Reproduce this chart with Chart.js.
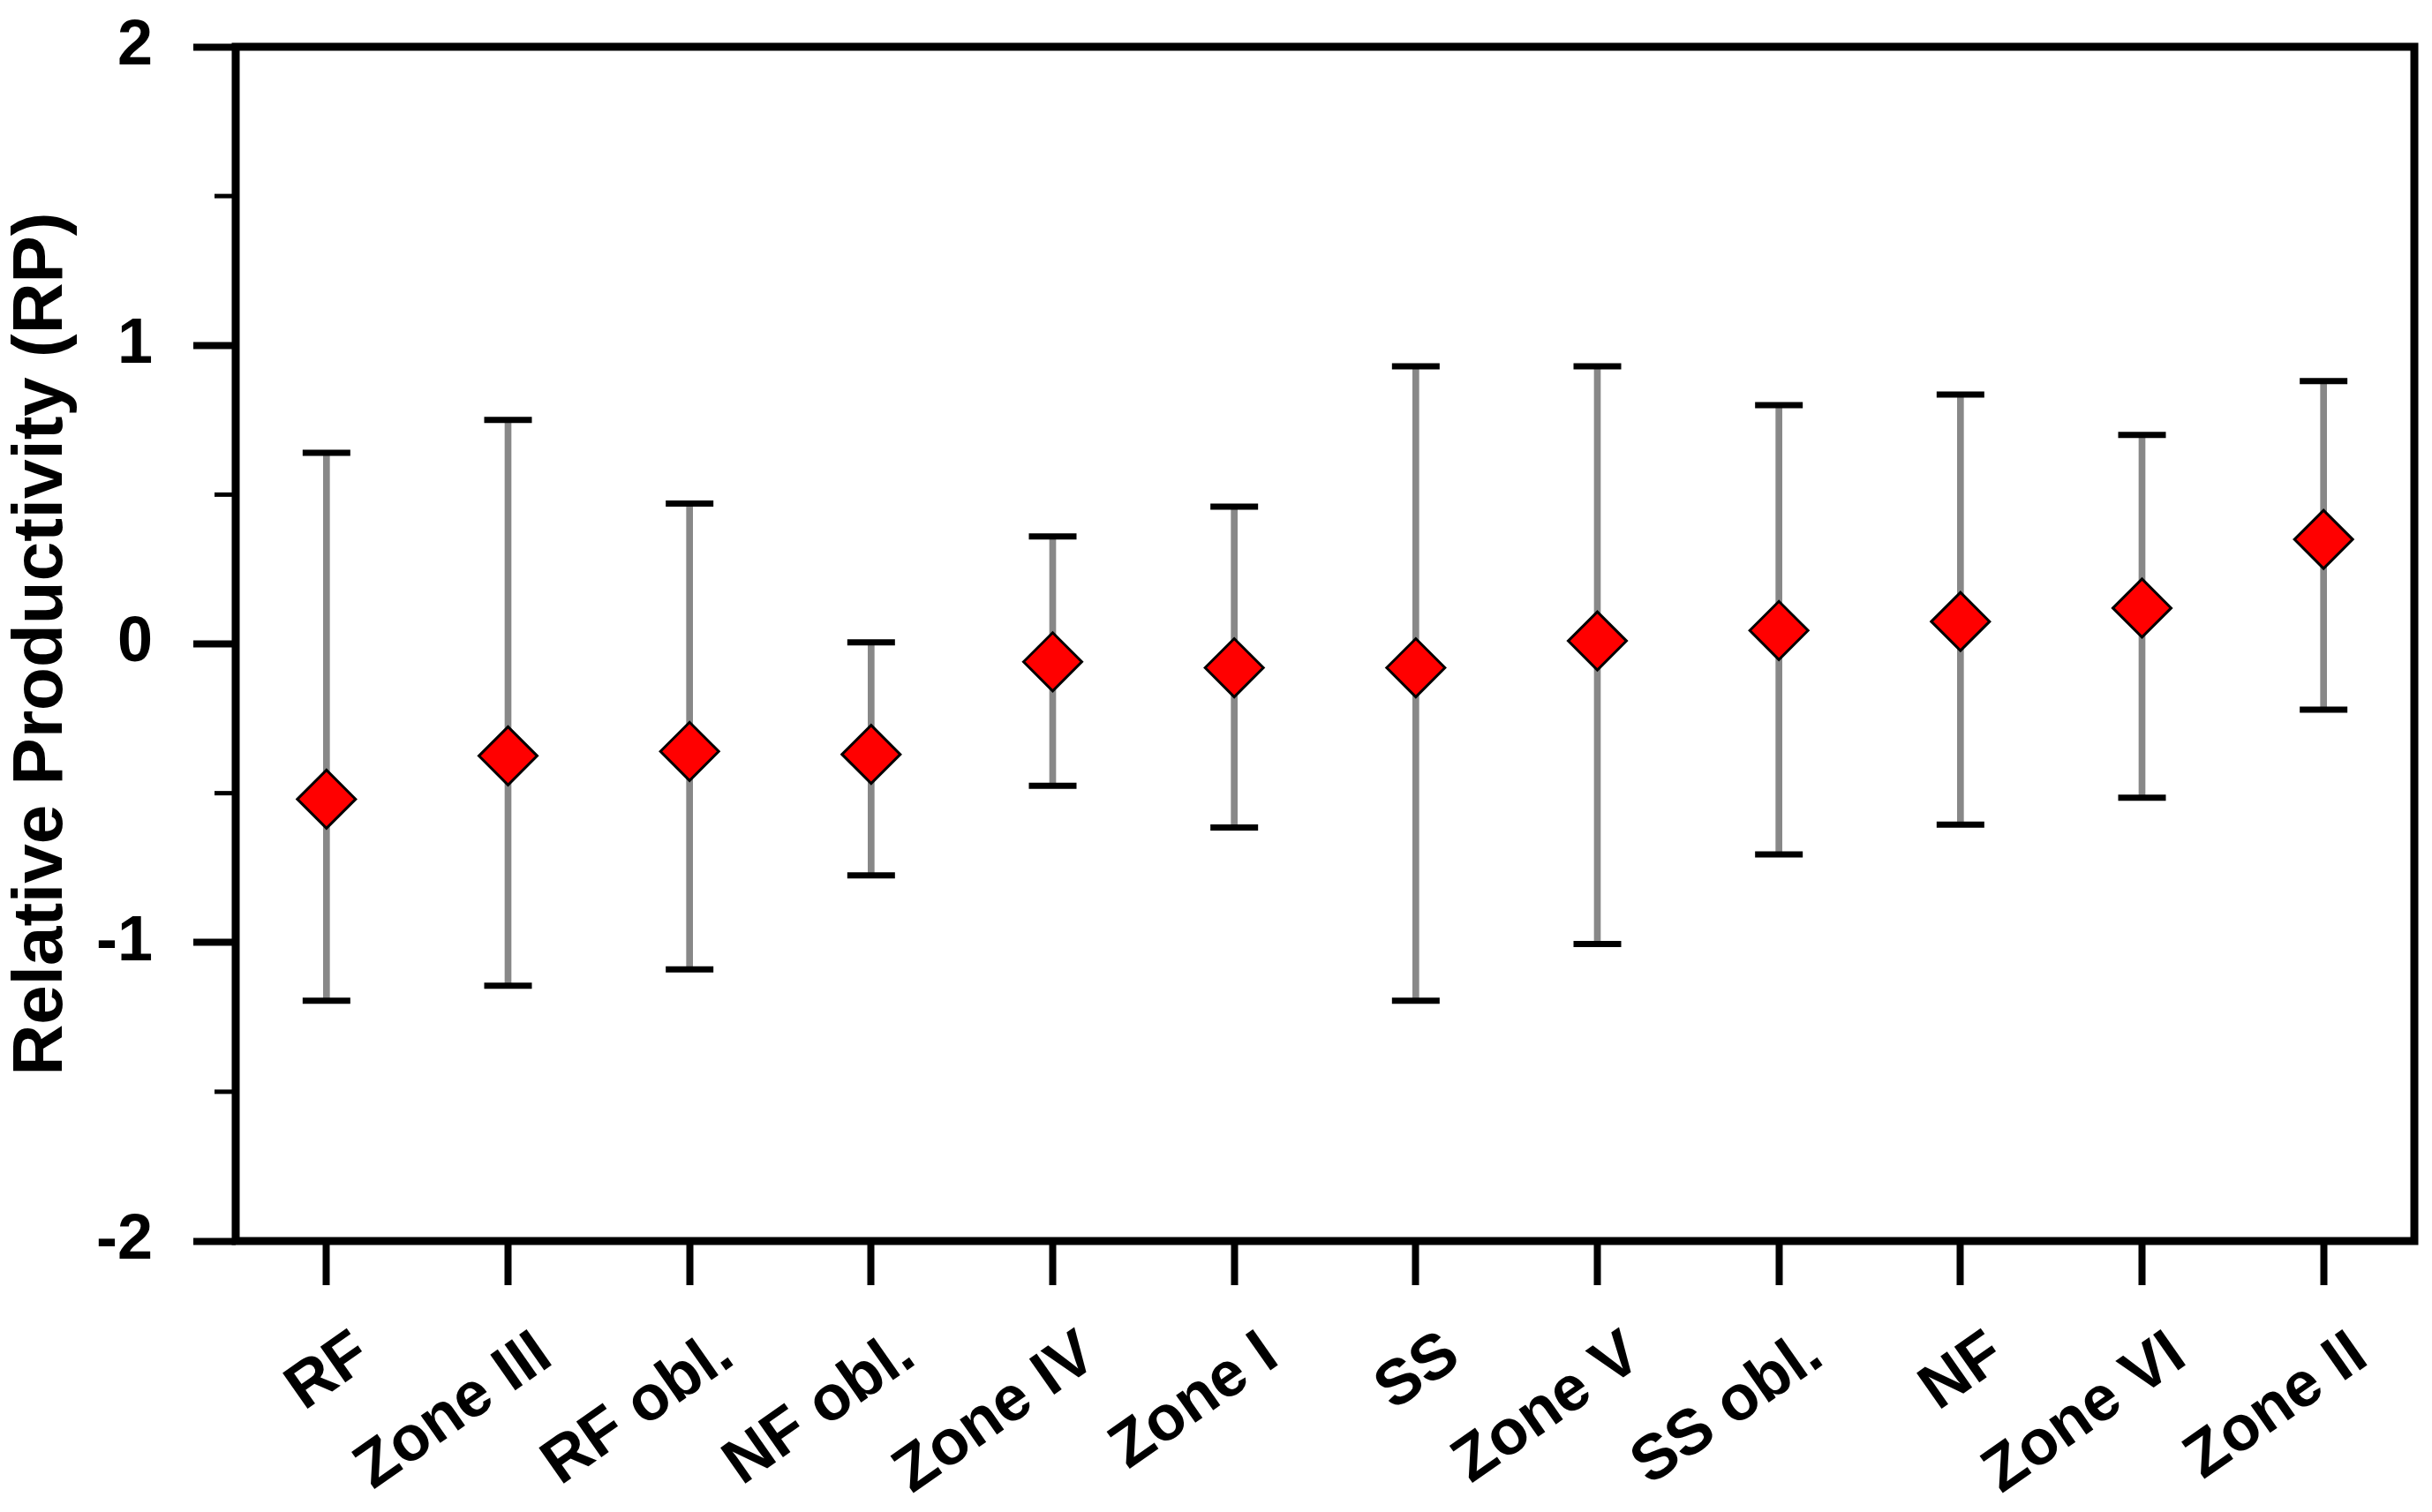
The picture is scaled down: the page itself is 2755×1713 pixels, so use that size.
<!DOCTYPE html>
<html>
<head>
<meta charset="utf-8">
<script src="https://cdn.jsdelivr.net/npm/chart.js@4.4.1/dist/chart.umd.min.js"></script>
<style>
  html, body { margin: 0; padding: 0; background: #fff; }
  canvas { display: block; }
</style>
</head>
<body>
<canvas id="rp-chart" width="2755" height="1713"></canvas>
<script>
const categories = ['RF', 'Zone III', 'RF obl.', 'NF obl.', 'Zone IV', 'Zone I', 'SS', 'Zone V', 'SS obl.', 'NF', 'Zone VI', 'Zone II'];
const means = [-0.52, -0.375, -0.36, -0.37, -0.06, -0.08, -0.08, 0.01, 0.045, 0.075, 0.12, 0.35];
const upper = [0.64, 0.75, 0.47, 0.005, 0.36, 0.46, 0.93, 0.93, 0.80, 0.835, 0.70, 0.88];
const lower = [-1.195, -1.145, -1.09, -0.775, -0.475, -0.615, -1.195, -1.005, -0.705, -0.605, -0.515, -0.22];
const yMin = -2;
const yMax = 2;
const yStep = 1;
const minorTicks = [-1.5, -0.5, 0.5, 1.5];

const FONT = "'Liberation Sans', Arial, sans-serif";

// box round the plot + short minor ticks on the y axis
const framePlugin = {
  id: 'frame',
  afterDraw(chart) {
    const {ctx, chartArea} = chart;
    const yScale = chart.scales.y;
    ctx.save();
    ctx.strokeStyle = '#000';
    ctx.lineWidth = 9;
    ctx.lineJoin = 'miter';
    ctx.strokeRect(chartArea.left, chartArea.top, chartArea.right - chartArea.left, chartArea.bottom - chartArea.top);
    ctx.lineWidth = 5;
    minorTicks.forEach(v => {
      const y = yScale.getPixelForValue(v);
      ctx.beginPath();
      ctx.moveTo(chartArea.left - 24, y);
      ctx.lineTo(chartArea.left, y);
      ctx.stroke();
    });
    ctx.restore();
  }
};

function drawChart() {
  new Chart(document.getElementById('rp-chart'), {
    type: 'bar',
    data: {
      labels: categories,
      datasets: [
        {
          type: 'line',
          data: means,
          showLine: false,
          pointStyle: 'rectRot',
          pointRadius: 33,
          pointBackgroundColor: '#ff0000',
          pointBorderColor: '#000',
          pointBorderWidth: 3,
          order: 0
        },
        {
          type: 'line',
          data: upper,
          showLine: false,
          pointStyle: 'line',
          pointRadius: 27,
          pointBorderColor: '#000',
          pointBorderWidth: 7,
          order: 1
        },
        {
          type: 'line',
          data: lower,
          showLine: false,
          pointStyle: 'line',
          pointRadius: 27,
          pointBorderColor: '#000',
          pointBorderWidth: 7,
          order: 1
        },
        {
          type: 'bar',
          data: lower.map((l, i) => [l, upper[i]]),
          backgroundColor: '#888888',
          barThickness: 7,
          order: 2
        }
      ]
    },
    options: {
      responsive: false,
      animation: false,
      devicePixelRatio: 1,
      layout: {
        autoPadding: false,
        padding: { top: 53, right: 20, left: 0, bottom: 0 }
      },
      plugins: {
        legend: { display: false },
        tooltip: { enabled: false }
      },
      scales: {
        x: {
          offset: true,
          border: { display: false },
          grid: {
            offset: false,
            drawOnChartArea: false,
            tickLength: 50,
            tickWidth: 8,
            tickColor: '#000'
          },
          ticks: {
            color: '#000',
            font: { family: FONT, size: 72, weight: 'bold' },
            minRotation: 35,
            maxRotation: 35,
            labelOffset: 42,
            padding: 36,
            autoSkip: false
          },
          afterFit(scale) {
            scale.height = 307;
            scale.paddingLeft = 0;
            scale.paddingRight = 0;
          }
        },
        y: {
          min: yMin,
          max: yMax,
          border: { display: false },
          grid: {
            drawOnChartArea: false,
            tickLength: 48,
            tickWidth: 8,
            tickColor: '#000'
          },
          ticks: {
            stepSize: yStep,
            color: '#000',
            padding: 46,
            font: { family: FONT, size: 72, weight: 'bold' }
          },
          title: {
            display: true,
            text: 'Relative Productivity (RP)',
            color: '#000',
            padding: 0,
            font: { family: FONT, size: 80, weight: 'bold' }
          },
          afterFit(scale) {
            scale.width = 267;
            scale.paddingTop = 0;
            scale.paddingBottom = 0;
          }
        }
      }
    },
    plugins: [framePlugin]
  });
}

document.addEventListener('DOMContentLoaded', () => {
  drawChart();
});
</script>
</body>
</html>
